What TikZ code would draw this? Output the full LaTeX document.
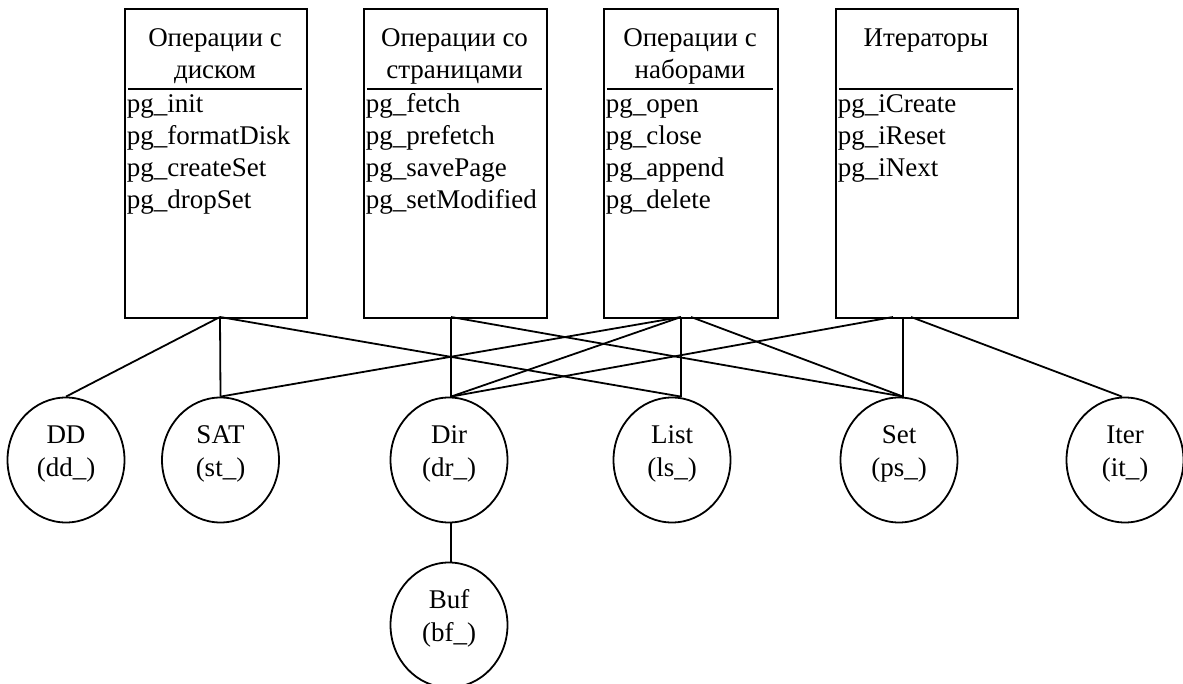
\documentclass[tikz,border=0pt]{standalone}
\usepackage{fontspec}
\setmainfont{Liberation Serif}
\usetikzlibrary{shapes.geometric}
\begin{document}
\begin{tikzpicture}[x=1pt,y=-1pt,line width=1.8pt,
  every node/.style={font=\fontsize{27}{32}\selectfont},
  opbox/.style={draw,rectangle,minimum width=#1,minimum height=309pt,anchor=north west,inner sep=0pt},
  txt/.style={anchor=base,inner sep=0pt},
  item/.style={anchor=base west,inner sep=0pt},
  ellip/.style={draw,ellipse,minimum width=117pt,minimum height=125pt,inner sep=0pt},
  hline/.style={line width=2.2pt},
  conn/.style={line width=1.8pt}]
\useasboundingbox (0,0) rectangle (1183,684);
% boxes
\node[opbox=182pt] (b1) at (124,8) {};
\node[opbox=183pt] (b2) at (363,8) {};
\node[opbox=174pt] (b3) at (603,8) {};
\node[opbox=182pt] (b4) at (835,8) {};
% headers
\node[txt] (h1a) at (215,47) {Операции с};
\node[txt] (h1b) at (215,79) {диском};
\node[txt] (h2a) at (454.5,47) {Операции со};
\node[txt] (h2b) at (454.5,79) {страницами};
\node[txt] (h3a) at (690,47) {Операции с};
\node[txt] (h3b) at (690,79) {наборами};
\node[txt] (h4a) at (926,47) {Итераторы};
\draw[hline] (128,89) -- (302,89);
\draw[hline] (367,89) -- (542,89);
\draw[hline] (607,89) -- (773,89);
\draw[hline] (839,89) -- (1013,89);
% items
\foreach \t [count=\i] in {pg\_init,pg\_formatDisk,pg\_createSet,pg\_dropSet}
  \node[item] (i1\i) at (126,{81+32*\i}) {\t};
\foreach \t [count=\i] in {pg\_fetch,pg\_prefetch,pg\_savePage,pg\_setModified}
  \node[item] (i2\i) at (365,{81+32*\i}) {\t};
\foreach \t [count=\i] in {pg\_open,pg\_close,pg\_append,pg\_delete}
  \node[item] (i3\i) at (605,{81+32*\i}) {\t};
\foreach \t [count=\i] in {pg\_iCreate,pg\_iReset,pg\_iNext}
  \node[item] (i4\i) at (837,{81+32*\i}) {\t};
% ellipses
\node[ellip] (dd) at (66,460) {};
\node[ellip] (sat) at (220.5,460) {};
\node[ellip] (dir) at (449,460) {};
\node[ellip] (ls) at (672,460) {};
\node[ellip] (set) at (899,460) {};
\node[ellip] (iter) at (1125,460) {};
\node[ellip] (buf) at (449,625) {};
\node[txt] (tdd1) at (66,443) {DD};
\node[txt] (tdd2) at (66,476) {(dd\_)};
\node[txt] (tsat1) at (220.5,443) {SAT};
\node[txt] (tsat2) at (220.5,476) {(st\_)};
\node[txt] (tdir1) at (449,443) {Dir};
\node[txt] (tdir2) at (449,476) {(dr\_)};
\node[txt] (tls1) at (672,443) {List};
\node[txt] (tls2) at (672,476) {(ls\_)};
\node[txt] (tset1) at (899,443) {Set};
\node[txt] (tset2) at (899,476) {(ps\_)};
\node[txt] (titer1) at (1125,443) {Iter};
\node[txt] (titer2) at (1125,476) {(it\_)};
\node[txt] (tbuf1) at (449,608) {Buf};
\node[txt] (tbuf2) at (449,641) {(bf\_)};
% connection points on box bottoms
\coordinate (b1p) at (220,317);
\coordinate (b2p) at (451,317);
\coordinate (b3p) at (681,317);
\coordinate (b3q) at (691,317);
\coordinate (b4p) at (893,317);
\coordinate (b4q) at (903,317);
\coordinate (b4r) at (911,317);
% connectors
\draw[conn] (b1p) -- (dd.north);
\draw[conn] (b1p) -- (sat.north);
\draw[conn] (b1p) -- ([xshift=9pt]ls.north);
\draw[conn] (b2p) -- ([xshift=2pt]dir.north);
\draw[conn] (b2p) -- ([xshift=4pt]set.north);
\draw[conn] (b3p) -- (sat.north);
\draw[conn] (b3p) -- ([xshift=2pt]dir.north);
\draw[conn] (b3p) -- ([xshift=9pt]ls.north);
\draw[conn] (b3q) -- ([xshift=4pt]set.north);
\draw[conn] (b4p) -- ([xshift=2pt]dir.north);
\draw[conn] (b4q) -- ([xshift=4pt]set.north);
\draw[conn] (b4r) -- ([xshift=-3pt]iter.north);
\draw[conn] ([xshift=2pt]dir.south) -- ([xshift=2pt]buf.north);
\end{tikzpicture}
\end{document}
